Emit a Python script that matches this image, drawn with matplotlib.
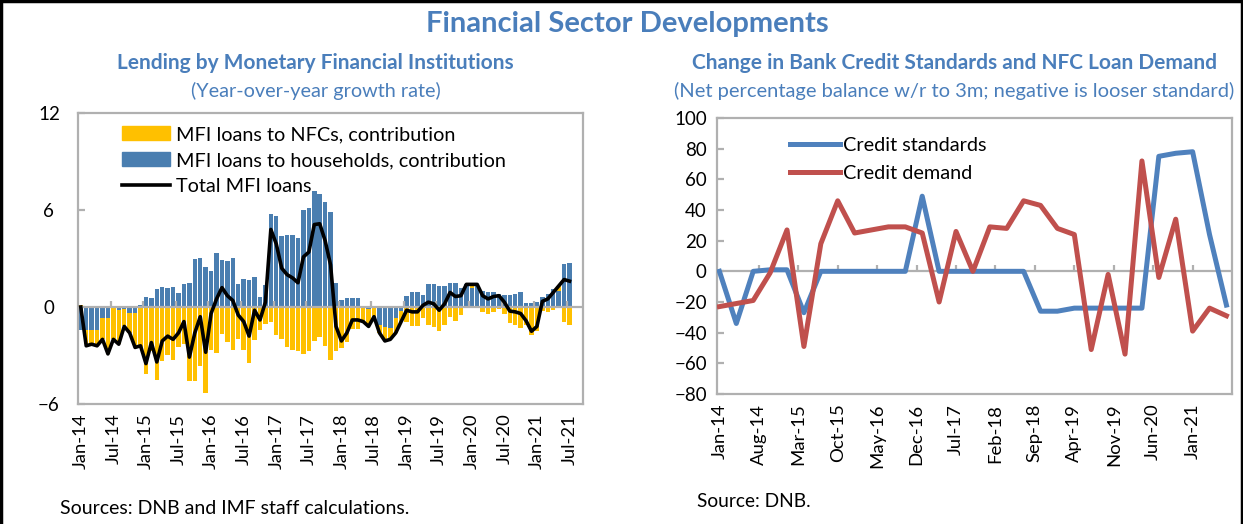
import numpy as np
import matplotlib
matplotlib.use('Agg')
import matplotlib.pyplot as plt
from matplotlib.patches import Patch
from matplotlib.lines import Line2D

# ---- left panel: monthly, Jan-14 .. Jul-21 (contributions to y/y growth, %)
hh_contrib = [-1.4, -1.4, -1.4, -1.4, -0.7, -0.7, 0.0, -0.2, -0.1, -0.35,
              -0.35, 0.15, 0.65, 0.55, 1.1, 1.25, 1.15, 1.25, 0.85, 1.4,
              1.5, 3.0, 3.05, 2.5, 2.25, 3.35, 2.9, 2.85, 3.05, 1.45,
              1.75, 1.65, 1.85, 0.65, 1.35, 5.75, 5.65, 4.4, 4.45, 4.45,
              4.25, 6.0, 6.15, 7.2, 7.0, 6.5, 5.9, 1.5, 0.45, 0.55,
              0.55, 0.55, 0.0, -0.1, -0.05, -1.1, -1.25, -1.3, -0.65, -0.25,
              0.7, 0.9, 0.9, 0.75, 1.4, 1.45, 1.3, 1.3, 1.5, 1.5,
              1.2, 1.4, 1.2, 1.3, 1.0, 0.95, 0.95, 0.8, 0.75, 0.75,
              0.8, 0.9, 0.25, 0.25, 0.3, 0.6, 0.8, 1.1, 1.0, 2.65,
              2.7]
nfc_contrib = [0.15, -0.9, -0.9, -0.9, -1.3, -2.2, -2.0, -2.1, -1.1, -1.25,
               -2.15, -2.55, -4.15, -2.75, -4.5, -3.35, -2.95, -3.25, -2.45, -2.3,
               -4.6, -4.6, -3.65, -5.3, -2.65, -2.85, -1.7, -2.15, -2.65, -1.95,
               -2.65, -3.45, -2.05, -1.45, -1.05, -0.95, -1.75, -2.0, -2.45, -2.65,
               -2.75, -2.9, -2.75, -2.1, -1.85, -2.4, -3.3, -2.7, -2.55, -2.15,
               -1.35, -1.35, -0.9, -1.1, -0.55, -0.5, -0.85, -0.7, -0.95, -0.65,
               -0.9, -1.2, -1.2, -0.65, -1.1, -1.25, -1.5, -1.1, -0.6, -0.85,
               -0.5, 0.0, 0.2, 0.1, -0.3, -0.45, -0.3, -0.1, -0.45, -1.0,
               -1.1, -1.3, -1.1, -1.75, -1.5, -0.25, -0.3, -0.2, 0.3, -0.95,
               -1.1]
total_mfi = [0.0, -2.4, -2.3, -2.4, -2.0, -2.9, -2.0, -2.3, -1.2, -1.6,
             -2.5, -2.4, -3.5, -2.2, -3.4, -2.1, -1.8, -2.0, -1.6, -0.9,
             -3.1, -1.6, -0.6, -2.8, -0.4, 0.5, 1.2, 0.7, 0.4, -0.5,
             -0.9, -1.8, -0.2, -0.8, 0.3, 4.8, 3.9, 2.4, 2.0, 1.8,
             1.5, 3.1, 3.4, 5.1, 5.15, 4.1, 2.6, -1.2, -2.1, -1.6,
             -0.8, -0.8, -0.9, -1.2, -0.6, -1.6, -2.1, -2.0, -1.6, -0.9,
             -0.2, -0.3, -0.3, 0.1, 0.3, 0.2, -0.2, 0.2, 0.9, 0.65,
             0.7, 1.4, 1.4, 1.4, 0.7, 0.5, 0.65, 0.7, 0.3, -0.25,
             -0.3, -0.4, -0.85, -1.5, -1.2, 0.35, 0.5, 0.9, 1.3, 1.7,
             1.6]
left_ticklabels = ['Jan-14', 'Jul-14', 'Jan-15', 'Jul-15', 'Jan-16', 'Jul-16',
                   'Jan-17', 'Jul-17', 'Jan-18', 'Jul-18', 'Jan-19', 'Jul-19',
                   'Jan-20', 'Jul-20', 'Jan-21', 'Jul-21']

# ---- right panel: quarterly, Jan-14 .. Jul-21 (net balance, %)
credit_standards = [0, -34, 0, 1, 1, -27, 0, 0, 0, 0, 0, 0, 49, 0, 0, 0,
                    0, 0, 0, -26, -26, -24, -24, -24, -24, -24, 75, 77, 78, 24, -22]
credit_demand = [-23, -21, -19, -1, 27, -49, 18, 46, 25, 27, 29, 29, 25, -20, 26, 0,
                 29, 28, 46, 43, 28, 24, -51, -2, -54, 72, -4, 34, -39, -24, -29]
right_ticklabels = ['Jan-14', 'Aug-14', 'Mar-15', 'Oct-15', 'May-16', 'Dec-16',
                    'Jul-17', 'Feb-18', 'Sep-18', 'Apr-19', 'Nov-19', 'Jun-20', 'Jan-21']

TITLE_BLUE = '#4A7EBB'
GREY = '#B0B0B0'
plt.rcParams['font.family'] = ['Lato', 'DejaVu Sans']

fig = plt.figure(figsize=(12.43, 5.24), dpi=100)

# outer frame
fig.add_artist(Line2D([0.001, 0.001], [0, 1], transform=fig.transFigure, color='black', lw=2.5))
fig.add_artist(Line2D([0, 1], [0.998, 0.998], transform=fig.transFigure, color='black', lw=2.5))
fig.add_artist(Line2D([0.999, 0.999], [0, 1], transform=fig.transFigure, color='black', lw=2.5))

fig.text(0.505, 0.955, 'Financial Sector Developments', ha='center', va='center',
         fontsize=21, fontweight='bold', color=TITLE_BLUE)
fig.text(0.254, 0.879, 'Lending by Monetary Financial Institutions', ha='center', va='center',
         fontsize=15, fontweight='bold', color=TITLE_BLUE)
fig.text(0.254, 0.826, '(Year-over-year growth rate)', ha='center', va='center',
         fontsize=14.3, color=TITLE_BLUE)
fig.text(0.768, 0.879, 'Change in Bank Credit Standards and NFC Loan Demand', ha='center', va='center',
         fontsize=15, fontweight='bold', color=TITLE_BLUE)
fig.text(0.768, 0.826, '(Net percentage balance w/r to 3m; negative is looser standard)',
         ha='center', va='center', fontsize=14.5, color=TITLE_BLUE)
fig.text(0.048, 0.03, 'Sources: DNB and IMF staff calculations.', ha='left', va='center', fontsize=14)
fig.text(0.561, 0.043, 'Source: DNB.', ha='left', va='center', fontsize=13.8)


def style_box(ax):
    for s in ax.spines.values():
        s.set_color(GREY)
        s.set_linewidth(1.6)


# ---- left chart
ax1 = fig.add_axes([0.0628, 0.229, 0.4063, 0.5553])
hh = np.array(hh_contrib)
nfc = np.array(nfc_contrib)
x = np.arange(len(hh))
nfc_bottom = np.where(np.sign(nfc) == np.sign(hh), hh, 0)

ax1.bar(x, hh, width=0.82, color='#4A7EB0', zorder=2)
ax1.bar(x, nfc, bottom=nfc_bottom, width=0.82, color='#FFC000', zorder=2)
ax1.axhline(0, color=GREY, lw=1.6, zorder=2.5)
ax1.vlines(np.arange(5.5, 92, 6), 0, 0.4, color=GREY, lw=1.6, zorder=2.5)
ax1.plot(x, total_mfi, color='black', lw=2.6, zorder=3)

ax1.set_xlim(-0.5, 92.5)
ax1.set_ylim(-6, 12)
ax1.set_yticks([-6, 0, 6, 12])
ax1.set_xticks(np.arange(0, len(hh), 6))
ax1.set_xticklabels(left_ticklabels, rotation=90, fontsize=13.3)
ax1.tick_params(axis='x', length=0, pad=7)
ax1.tick_params(axis='y', direction='in', length=5, color=GREY, width=1.6, labelsize=13.5, pad=21)
for lab in ax1.get_yticklabels():
    lab.set_horizontalalignment('center')
style_box(ax1)

handles1 = [Patch(color='#FFC000'), Patch(color='#4A7EB0'), Line2D([], [], color='black', lw=2.6)]
ax1.legend(handles1, ['MFI loans to NFCs, contribution', 'MFI loans to households, contribution',
                      'Total MFI loans'],
           loc='upper left', bbox_to_anchor=(0.087, 0.955), frameon=False, fontsize=14.3,
           handlelength=2.4, handleheight=0.7, handletextpad=0.3, labelspacing=0.45,
           borderaxespad=0, borderpad=0)

# ---- right chart
ax2 = fig.add_axes([0.5765, 0.2481, 0.4147, 0.5267])
q = np.arange(len(credit_standards)) * 3  # months since Jan-14
ax2.axhline(0, color=GREY, lw=1.6, zorder=1)
ax2.vlines(np.arange(7, 85, 7), 0, 4, color=GREY, lw=1.6, zorder=1)
ax2.plot(q, credit_standards, color='#4F81BD', lw=3.6, label='Credit standards', zorder=3)
ax2.plot(q, credit_demand, color='#C0504D', lw=3.6, label='Credit demand', zorder=3)

ax2.set_xlim(-0.5, 91)
ax2.set_ylim(-80, 100)
ax2.set_yticks(np.arange(-80, 101, 20))
ax2.set_xticks(np.arange(0, 85, 7))
ax2.set_xticklabels(right_ticklabels, rotation=90, fontsize=13.3)
ax2.tick_params(axis='x', length=0, pad=7)
ax2.tick_params(axis='y', direction='in', length=5, color=GREY, width=1.6, labelsize=13.5, pad=7)
style_box(ax2)
ax2.legend(loc='upper left', bbox_to_anchor=(0.143, 0.93), frameon=False, fontsize=14.3,
           handlelength=2.5, handletextpad=0.15, labelspacing=0.55, borderaxespad=0, borderpad=0)

fig.savefig('out.png', dpi=100)
